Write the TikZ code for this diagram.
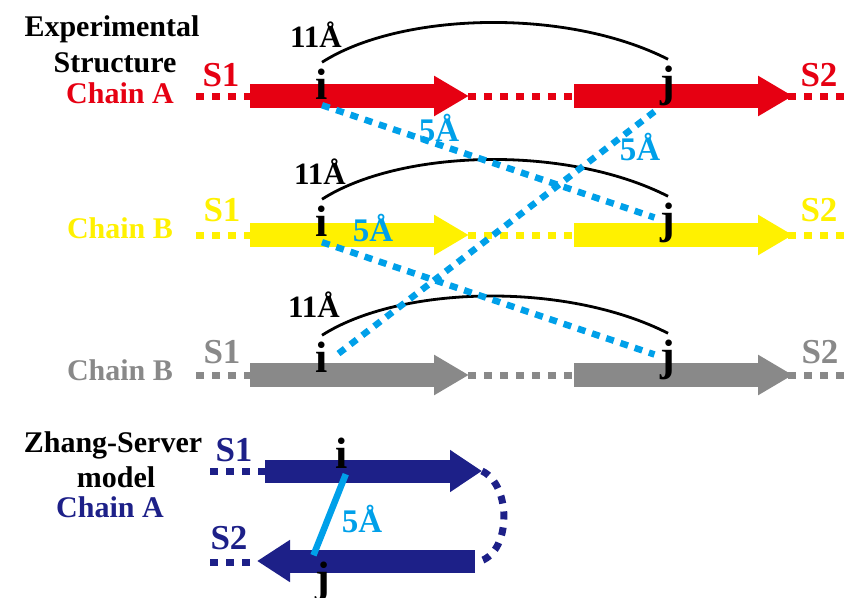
\documentclass[tikz,border=0pt]{standalone}
\usepackage{fontspec}
\setmainfont{Liberation Serif}
\usetikzlibrary{arrows.meta}

\definecolor{chainred}{HTML}{E60012}
\definecolor{chainyellow}{HTML}{FFF100}
\definecolor{chaingrey}{HTML}{898989}
\definecolor{chainnavy}{HTML}{1D2088}
\definecolor{contactblue}{HTML}{00A0E9}

\tikzset{
  lbl/.style={font=\bfseries\fontsize{30}{30}\selectfont, inner sep=0pt},
  seglbl/.style={font=\bfseries\fontsize{35}{35}\selectfont, inner sep=0pt},
  res/.style={font=\bfseries\fontsize{44}{44}\selectfont, inner sep=6pt, anchor=base},
  spanlbl/.style={font=\bfseries\fontsize{31}{31}\selectfont, inner sep=0pt},
  dist/.style={font=\bfseries\fontsize{33}{33}\selectfont, inner sep=0pt, text=contactblue},
  strand/.style={line width=24pt, -{Triangle[length=35pt,width=38pt]}},
  loopline/.style={line width=7pt, dash pattern=on 8pt off 8pt},
  contact/.style={line width=6.5pt, dash pattern=on 8pt off 7pt, draw=contactblue},
  span/.style={line width=2.8pt, draw=black}
}

\begin{document}
\begin{tikzpicture}[x=1pt,y=-1pt]
\useasboundingbox (0,0) rectangle (845,597);

% the three aligned chains: loops first, strands on top
\foreach \y/\c in {96/chainred,235/chainyellow,375/chaingrey}{
  \draw[loopline,draw=\c] (196,\y) -- (845,\y);
  \draw[strand,draw=\c] (250,\y) -- (469,\y);
  \draw[strand,draw=\c] (574,\y) -- (793,\y);
}

% hairpin of the model
\draw[loopline,draw=chainnavy] (210,471) -- (265,471);
\draw[loopline,draw=chainnavy] (210,562) -- (257,562);
\draw[loopline,draw=chainnavy] (482,471) .. controls (512,485) and (512,555) .. (477,562);
\draw[draw=chainnavy,line width=23pt,-{Triangle[length=32pt,width=40pt]}] (265,471) -- (482,471);
\draw[draw=chainnavy,line width=23pt,-{Triangle[length=33pt,width=40pt]}] (475,561) -- (257,561);

% titles
\node[lbl] (exptitle) at (112,29) {Experimental};
\node[lbl] (structtitle) at (115,63) {Structure};
\node[lbl,text=chainred] (chainA) at (120,93) {Chain A};
\node[lbl,text=chainyellow] (chainB) at (120,228) {Chain B};
\node[lbl,text=chaingrey] (chainBgrey) at (120,370) {Chain B};
\node[lbl] (zstitle) at (113,445) {Zhang-Server};
\node[lbl] (modeltitle) at (116,477) {model};
\node[lbl,text=chainnavy] (chainAmodel) at (110,507) {Chain A};

% strand names
\node[seglbl,text=chainred] (s1a) at (221,75) {S1};
\node[seglbl,text=chainred] (s2a) at (819,75) {S2};
\node[seglbl,text=chainyellow] (s1b) at (222,210) {S1};
\node[seglbl,text=chainyellow] (s2b) at (819,210) {S2};
\node[seglbl,text=chaingrey] (s1c) at (222,352) {S1};
\node[seglbl,text=chaingrey] (s2c) at (820,352) {S2};
\node[seglbl,text=chainnavy] (s1m) at (234,450) {S1};
\node[seglbl,text=chainnavy] (s2m) at (229,538) {S2};

% residues
\node[res] (i1) at (322,99) {i};
\node[res] (j1) at (668,96) {j};
\node[res] (i2) at (322,236) {i};
\node[res] (j2) at (668,233) {j};
\node[res] (i3) at (322,372) {i};
\node[res] (j3) at (668,370) {j};
\node[res] (iZ) at (342,468) {i};
\node[res] (jZ) at (323,592) {j};

% intra-chain distances
\draw[span] (i1.north) .. controls +(78,-50) and +(-102,-52) .. (j1.north);
\draw[span] (i2.north) .. controls +(78,-50) and +(-102,-52) .. (j2.north);
\draw[span] (i3.north) .. controls +(78,-50) and +(-102,-52) .. (j3.north);
\node[spanlbl] (far1) at (316,35) {11Å};
\node[spanlbl] (far2) at (320,172) {11Å};
\node[spanlbl] (far3) at (314,305) {11Å};

% inter-chain contacts
\draw[contact] (i1.south) -- (j2.160);
\draw[contact] (j1.south west) -- (i3.east);
\draw[contact] (i2.south) -- (j3.160);
\draw[line width=6.5pt,draw=contactblue] (iZ.-80) -- (jZ.110);
\node[dist] (d1) at (439,128) {5Å};
\node[dist] (d2) at (640,147) {5Å};
\node[dist] (d3) at (373,228) {5Å};
\node[dist] (d4) at (362,519) {5Å};
\end{tikzpicture}
\end{document}
